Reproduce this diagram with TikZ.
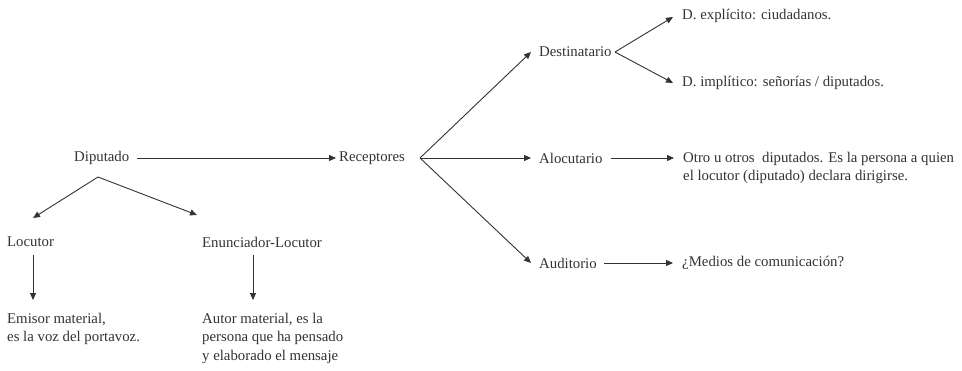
\documentclass[tikz,border=0pt]{standalone}
\usepackage{fontspec}
\setmainfont{Liberation Serif}
\usetikzlibrary{arrows.meta}
\begin{document}
\begin{tikzpicture}[x=1pt,y=-1pt,
  lbl/.style={inner sep=0pt, anchor=west, text=black!80, font=\fontsize{14.8}{18.5}\selectfont, align=left},
  arr/.style={draw=black!80, line width=0.9pt, -{Triangle[length=7pt,width=6pt]}},
  ln/.style={draw=black!80, line width=0.9pt}]
\useasboundingbox[fill=white] (0,0) rectangle (962,370);
% nodes
\node[lbl] (dip) at (74,158) {Diputado};
\node[lbl] (rec) at (339,158) {Receptores};
\node[lbl] (des) at (539,52) {Destinatario};
\node[lbl] (alo) at (539,158) {Alocutario};
\node[lbl] (aud) at (539,263) {Auditorio};
\node[lbl] (dex) at (682,16) {D. explícito: ciudadanos.};
\node[lbl] (dim) at (682,83) {D. implítico: señorías / diputados.};
\node[lbl] (otro) at (683,168) {Otro u otros\ \ diputados. Es la persona a quien\\el locutor (diputado) declara dirigirse.};
\node[lbl] (med) at (682,263) {¿Medios de comunicación?};
\node[lbl] (loc) at (7,242) {Locutor};
\node[lbl] (enu) at (202,242) {Enunciador-Locutor};
\node[lbl] (emi) at (7,329) {Emisor material,\\es la voz del portavoz.};
\node[lbl] (aut) at (202,338) {Autor material, es la\\persona que ha pensado\\y elaborado el mensaje};
% junction and end points
\coordinate (rv) at (420,158);
\coordinate (dv) at (615,52);
\coordinate (pv) at (98,177);
\coordinate (dipE) at (137,158);   \coordinate (recW) at (336,158);
\coordinate (desW) at (531,52);    \coordinate (aloW) at (531,158);  \coordinate (audW) at (531,263);
\coordinate (dexW) at (673,17);    \coordinate (dimW) at (673,83);
\coordinate (aloE) at (611,158);   \coordinate (otroW) at (674,158);
\coordinate (audE) at (604,263);   \coordinate (medW) at (673,263);
\coordinate (locN) at (33,218);    \coordinate (enuN) at (197,215);
\coordinate (locS) at (33,255);    \coordinate (emiN) at (33,300);
\coordinate (enuS) at (253,255);   \coordinate (autN) at (253,300);
% connectors
\draw[arr] (dipE) -- (recW);
\draw[arr] (rv) -- (desW);
\draw[arr] (rv) -- (aloW);
\draw[arr] (rv) -- (audW);
\draw[arr] (dv) -- (dexW);
\draw[arr] (dv) -- (dimW);
\draw[arr] (aloE) -- (otroW);
\draw[arr] (audE) -- (medW);
\draw[arr] (pv) -- (locN);
\draw[arr] (pv) -- (enuN);
\draw[arr] (locS) -- (emiN);
\draw[arr] (enuS) -- (autN);
\end{tikzpicture}
\end{document}
